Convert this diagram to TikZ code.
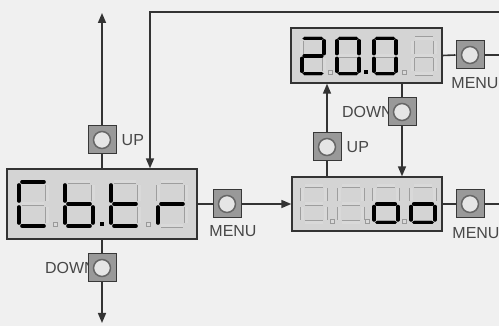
\documentclass[tikz,border=0pt]{standalone}
\usepackage{fontspec}
\setmainfont{Liberation Sans}
\usetikzlibrary{arrows.meta,calc,positioning}
% segment paths of one digit (centre at the origin)
\newcommand{\digitsega}{(-11,-22)--(11,-22)}
\newcommand{\digitsegb}{(14,-19)--(14,-3)}
\newcommand{\digitsegc}{(14,3)--(14,19)}
\newcommand{\digitsegd}{(-11,22)--(11,22)}
\newcommand{\digitsege}{(-14,3)--(-14,19)}
\newcommand{\digitsegf}{(-14,-19)--(-14,-3)}
\newcommand{\digitsegg}{(-11,0)--(11,0)}
\newcommand{\digitsegn}{(0,0)}
\tikzset{
  lcd/.style={draw=black!80,fill=black!17,line width=1.3pt,inner sep=0pt},
  seg off/.style={draw=black!38,line width=.5pt,double=black!15,double distance=3pt},
  seg on/.style={draw=black,line width=3.6pt,line cap=round},
  dot off/.style={draw=black!40,fill=black!15,line width=.4pt},
  dot on/.style={fill=black},
  keybtn/.style={draw=black!78,fill=black!40,line width=1pt,minimum size=28pt,inner sep=0pt,
    path picture={\draw[draw=black!60,fill=black!10,line width=1.5pt]
      (path picture bounding box.center) circle (8.5pt);}},
  keylabel/.style={font=\fontsize{16}{16}\selectfont,text=black!72,inner sep=1pt},
  flowline/.style={draw=black!80,line width=1.6pt},
  flowarrow/.style={flowline,-{Triangle[length=10pt,width=8pt]}}
}
\newcommand{\SegDigit}[4]{%
  \begin{scope}[shift={(#1,#2)},scale=#3]
    \foreach \s in {a,b,c,d,e,f,g} {\draw[seg off] \csname digitseg\s\endcsname;}
    \foreach \s in {#4} {\draw[seg on] \csname digitseg\s\endcsname;}
  \end{scope}}
\newcommand{\SegDot}[3]{\path[#3] (#1-2,#2-2) rectangle ++(4,4);}

\begin{document}
\begin{tikzpicture}[x=1pt,y=-1pt,line join=miter]
  \fill[black!6] (0,0) rectangle (499,326);
  \useasboundingbox (0,0) rectangle (499,326);

  % key positions
  \coordinate (kUpA)   at (102,140);
  \coordinate (kDownA) at (102,268);
  \coordinate (kMenuA) at (227,204);
  \coordinate (kUpB)   at (327,147);
  \coordinate (kDownB) at (402,112);
  \coordinate (kMenuB) at (470,55);
  \coordinate (kMenuC) at (470,204);
  \coordinate (outTop) at (102,13);
  \coordinate (outBot) at (102,323);
  \coordinate (retR)   at (499,12);
  \coordinate (retL)   at (150,12);
  \coordinate (outB)   at (499,55);
  \coordinate (outC)   at (499,204);

  % displays
  \node[lcd,minimum width=190pt,minimum height=70pt] (ctrl) at (102,204) {};
  \node[lcd,minimum width=151pt,minimum height=55pt] (year) at (366.5,55.5) {};
  \node[lcd,minimum width=150pt,minimum height=54pt] (opts) at (367,204) {};

  \SegDigit{33}{204}{1}{a,f,e,d}
  \SegDigit{79}{204}{1}{f,e,g,c,d}
  \SegDigit{125}{204}{1}{f,e,g,d}
  \SegDigit{172}{204}{1}{e,g}
  \SegDot{55}{224}{dot off}
  \SegDot{102}{224}{dot on}
  \SegDot{148}{224}{dot off}

  \SegDigit{313}{56}{.8}{a,b,g,e,d}
  \SegDigit{348}{56}{.8}{a,b,c,d,e,f}
  \SegDigit{385}{56}{.8}{a,b,c,d,e,f}
  \SegDigit{424}{56}{.8}{n}
  \SegDot{330}{72}{dot off}
  \SegDot{366}{72}{dot on}
  \SegDot{404}{72}{dot off}

  \SegDigit{314}{204}{.84}{n}
  \SegDigit{351}{204}{.84}{n}
  \SegDigit{386}{204}{.84}{g,e,c,d}
  \SegDigit{423}{204}{.84}{g,e,c,d}
  \SegDot{332}{221}{dot off}
  \SegDot{367}{221}{dot off}
  \SegDot{404}{221}{dot off}

  % labels under the keys
  \node[keylabel,left=5pt] (downAtext) at (kDownA) {DOWN};
  \node[keylabel,left=8pt] (downBtext) at (kDownB) {DOWN};

  % keys
  \node[keybtn] (upA)   at (kUpA) {};
  \node[keybtn] (downA) at (kDownA) {};
  \node[keybtn] (menuA) at (kMenuA) {};
  \node[keybtn] (upB)   at (kUpB) {};
  \node[keybtn] (downB) at (kDownB) {};
  \node[keybtn] (menuB) at (kMenuB) {};
  \node[keybtn] (menuC) at (kMenuC) {};

  \node[keylabel,right=4pt] (upAtext) at (upA.east) {UP};
  \node[keylabel,right=4pt] (upBtext) at (upB.east) {UP};
  \node[keylabel,below=6pt,xshift=6pt] (menuAtext) at (menuA.south) {MENU};
  \node[keylabel,below=7pt,xshift=5pt] (menuBtext) at (menuB.south) {MENU};
  \node[keylabel,below=8pt,xshift=6pt] (menuCtext) at (menuC.south) {MENU};

  % connectors
  \draw[flowline] (ctrl.north -| upA) -- (upA.south);
  \draw[flowarrow] (upA.north) -- (outTop);
  \draw[flowline] (ctrl.south -| downA) -- (downA.north);
  \draw[flowarrow] (downA.south) -- (outBot);
  \draw[flowline] (ctrl.east) -- (menuA.west);
  \draw[flowarrow] (menuA.east) -- (opts.west);
  \draw[flowarrow] (retR) -- (retL) -- (retL |- ctrl.north);
  \draw[flowline] (opts.north -| upB) -- (upB.south);
  \draw[flowarrow] (upB.north) -- (upB.north |- year.south);
  \draw[flowline] (year.south -| downB) -- (downB.north);
  \draw[flowarrow] (downB.south) -- (downB.south |- opts.north);
  \draw[flowline] (year.east) -- (menuB.west);
  \draw[flowline] (menuB.east) -- (outB);
  \draw[flowline] (opts.east) -- (menuC.west);
  \draw[flowline] (menuC.east) -- (outC);
\end{tikzpicture}
\end{document}
